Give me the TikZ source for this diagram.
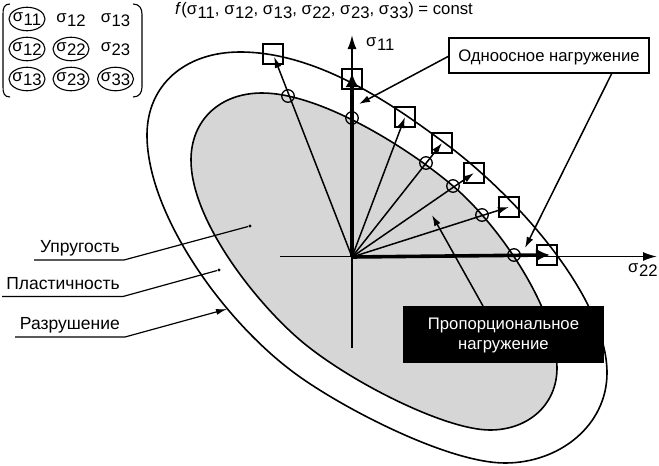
\documentclass[tikz,border=0pt]{standalone}
\usepackage{fontspec}
\setmainfont{Liberation Sans}
\usetikzlibrary{arrows.meta,shapes.geometric}
\newcommand{\sg}[1]{σ\kern0.5pt\raisebox{-4pt}{#1}}
\tikzset{
 x=1pt,y=-1pt,
 lbl/.style={inner sep=0pt,font=\fontsize{17.5}{20}\selectfont},
 ray/.style={line width=1.5pt,-{Latex[length=11pt,width=7pt]}},
 thick ray/.style={line width=3.6pt,-{Latex[length=14pt,width=13pt]}},
 axisl/.style={line width=1.7pt,-{Latex[length=14pt,width=9pt]}},
 sq/.style={draw,line width=1.6pt,minimum size=20pt,inner sep=0pt},
 circ/.style={draw,circle,line width=1.3pt,minimum size=12.5pt,inner sep=0pt},
 thinl/.style={line width=1.2pt},
 sig/.style={inner sep=0pt},
 oval/.style={draw,ellipse,line width=1.1pt,minimum width=36pt,minimum height=23.5pt,inner sep=0pt},
 dotend/.style={fill,circle,inner sep=0pt,minimum size=3.4pt},
 contour/.style={line width=1.6pt},
}
\begin{document}
\begin{tikzpicture}[every node/.append style={font=\fontsize{16.7}{19.5}\selectfont}]
\useasboundingbox (0,0) rectangle (659,466);
\draw[contour,fill=white] (240,52) .. controls (320,52) and (398,108) .. (450,147)
 .. controls (521.5,201.5) and (607,300) .. (607,373)
 .. controls (607,425) and (560,463) .. (505,463)
 .. controls (450,463) and (349,411.6) .. (300,377)
 .. controls (226,325) and (147,215) .. (147,135)
 .. controls (147,85) and (185,52) .. (240,52) -- cycle;
\draw[contour,fill=black!16] (262,93) .. controls (320,93) and (407,147) .. (453,186)
 .. controls (500,226) and (557,310) .. (557,368)
 .. controls (557,405) and (528,430) .. (490,430)
 .. controls (445,430) and (348,381) .. (300,340)
 .. controls (255,301.5) and (191,220) .. (191,160)
 .. controls (191,120) and (220,93) .. (262,93) -- cycle;
\coordinate (O) at (352,257);
\node[sq] (s1) at (273,54) {};
\node[sq] (s2) at (352,79) {};
\node[sq] (s3) at (405,117) {};
\node[sq] (s4) at (442,143) {};
\node[sq] (s5) at (474,173) {};
\node[sq] (s6) at (509,207) {};
\node[sq] (s7) at (547,255) {};
\node[circ] (c1) at (288,96) {};
\node[circ] (c2) at (352,118) {};
\node[circ] (c3) at (426,163) {};
\node[circ] (c4) at (453,186) {};
\node[circ] (c5) at (482,215) {};
\node[circ] (c6) at (514,255) {};
\coordinate (xs) at (280,256.5);
\coordinate (xe) at (657,256.5);
\coordinate (ye) at (352,35);
\coordinate (yb) at (352,348);
\draw[axisl] (xs) -- (xe);
\draw[axisl] (yb) -- (ye);
\draw[ray,shorten >=3pt] (O) -- (s1.center);
\draw[ray] (O) -- (s3.center);
\draw[ray] (O) -- (s4.center);
\draw[ray] (O) -- (s5.center);
\draw[ray] (O) -- (s6.center);
\draw[thick ray,shorten >=-6pt] (O) -- (s2.center);
\draw[thick ray,shorten >=-3pt] (O) -- (s7.center);
\node[sig,anchor=west] (a1) at (366,44) {\sg{11}};
\node[sig,anchor=west] (a2) at (628,270) {\sg{22}};
\node[sig,anchor=west] (f) at (175,11) {\textit{f}(\sg{11}, \sg{12}, \sg{13}, \sg{22}, \sg{23}, \sg{33}) = const};
\node[sig] (m11) at (27,19) {\sg{11}};
\node[sig] (m12) at (71,20) {\sg{12}};
\node[sig] (m13) at (115.5,20) {\sg{13}};
\node[sig] (m21) at (27,49) {\sg{12}};
\node[sig] (m22) at (71,49) {\sg{22}};
\node[sig] (m23) at (115.5,49) {\sg{23}};
\node[sig] (m31) at (27,79) {\sg{13}};
\node[sig] (m32) at (71,79) {\sg{23}};
\node[sig] (m33) at (115.5,79) {\sg{33}};
\foreach \n in {m11,m21,m22,m31,m32,m33}{\node[oval] at (\n) {};}
\draw[line width=1.1pt] (10,4) .. controls (4,4) and (3,8) .. (3,14) -- (3,87) .. controls (3,93) and (4,97) .. (10,97);
\draw[line width=1.1pt] (133,4) .. controls (139,4) and (142,8) .. (142,14) -- (142,87) .. controls (142,93) and (139,97) .. (133,97);
\node[draw,line width=1.4pt,fill=white,minimum width=200pt,minimum height=35pt,inner sep=0pt,text depth=0pt] (uni) at (549,55.5) {Одноосное нагружение};
\node[fill=black,minimum width=201pt,minimum height=57pt,inner sep=0pt] (prop) at (503.5,334.5) {};
\node[text=white,inner sep=0pt,align=center] (proptext) at (503.5,335.5) {Пропорциональное\\нагружение};
\coordinate (t1) at (359,104);
\coordinate (t2) at (525,248);
\coordinate (t3) at (432,215);
\coordinate (u1) at (449,56);
\coordinate (u2) at (612,73);
\coordinate (p3) at (483,306);
\draw[ray] (u1) -- (t1);
\draw[ray] (u2) -- (t2);
\draw[ray] (p3) -- (t3);
\node[lbl,anchor=east] (l1) at (120,248.5) {Упругость};
\node[lbl,anchor=east] (l2) at (120,284) {Пластичность};
\node[lbl,anchor=east] (l3) at (120,325.5) {Разрушение};
\coordinate (e1a) at (34,260); \coordinate (e1b) at (124,260); \node[dotend] (d1) at (250,226) {};
\coordinate (e2a) at (2,296.5); \coordinate (e2b) at (123,296.5); \node[dotend] (d2) at (219,270) {};
\coordinate (e3a) at (15,337); \coordinate (e3b) at (125,337); \coordinate (d3) at (227,309);
\draw[thinl] (e1a) -- (e1b) -- (d1);
\draw[thinl] (e2a) -- (e2b) -- (d2);
\draw[thinl,-{Latex[length=11pt,width=6pt]}] (e3a) -- (e3b) -- (d3);
\end{tikzpicture}
\end{document}
